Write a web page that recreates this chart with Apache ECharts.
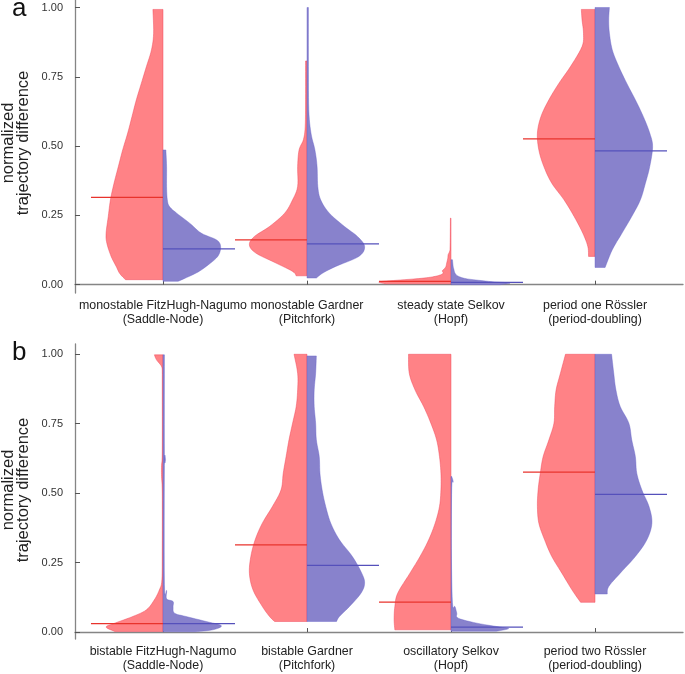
<!DOCTYPE html>
<html><head><meta charset="utf-8">
<script src="https://cdn.jsdelivr.net/npm/echarts@6/dist/echarts.min.js"></script>
<style>html,body{margin:0;padding:0;background:#fff}#c{width:685px;height:674px}</style>
</head><body><div id="c"></div>
<script>
// ---------- data ----------
const categoriesA = ['monostable FitzHugh-Nagumo\n(Saddle-Node)', 'monostable Gardner\n(Pitchfork)', 'steady state Selkov\n(Hopf)', 'period one Rössler\n(period-doubling)'];
const categoriesB = ['bistable FitzHugh-Nagumo\n(Saddle-Node)', 'bistable Gardner\n(Pitchfork)', 'oscillatory Selkov\n(Hopf)', 'period two Rössler\n(period-doubling)'];
const yTicks = [0, 0.25, 0.5, 0.75, 1];
const panelLabels = ['a', 'b'];
const yTitle = 'normalized\ntrajectory difference';

const medianRedA  = [0.315, 0.162, 0.012, 0.526];
const medianBlueA = [0.129, 0.147, 0.008, 0.483];
const medianRedB  = [0.030, 0.314, 0.108, 0.576];
const medianBlueB = [0.030, 0.240, 0.018, 0.496];

// density profiles: [value, relative half-width]
const violinRedA = [
  [[0.018,0.52],[0.04,0.60],[0.066,0.65],[0.102,0.72],[0.15,0.78],[0.186,0.79],[0.246,0.76],[0.306,0.73],[0.366,0.68],[0.426,0.62],[0.486,0.56],[0.547,0.49],[0.607,0.43],[0.667,0.37],[0.727,0.30],[0.787,0.23],[0.847,0.16],[0.907,0.13],[0.993,0.14]],
  [[0.032,0.15],[0.048,0.20],[0.078,0.43],[0.114,0.71],[0.144,0.80],[0.174,0.73],[0.210,0.52],[0.258,0.31],[0.306,0.20],[0.354,0.13],[0.426,0.13],[0.486,0.11],[0.523,0.05],[0.570,0.025],[0.667,0.02],[0.807,0.02]],
  [[0.003,0.9],[0.010,1.0],[0.016,0.75],[0.022,0.45],[0.028,0.26],[0.035,0.15],[0.042,0.11],[0.050,0.12],[0.058,0.09],[0.066,0.07],[0.078,0.06],[0.095,0.045],[0.108,0.04],[0.12,0.02],[0.14,0.012],[0.24,0.008]],
  [[0.102,0.09],[0.138,0.10],[0.186,0.17],[0.246,0.29],[0.306,0.43],[0.366,0.60],[0.426,0.71],[0.486,0.78],[0.547,0.80],[0.607,0.75],[0.667,0.64],[0.727,0.50],[0.787,0.34],[0.859,0.18],[0.907,0.16],[0.955,0.18],[0.993,0.19]]
];
const violinBlueA = [
  [[0.012,0.21],[0.042,0.46],[0.066,0.60],[0.102,0.76],[0.138,0.80],[0.162,0.74],[0.186,0.53],[0.222,0.37],[0.258,0.19],[0.282,0.09],[0.306,0.06],[0.354,0.05],[0.426,0.05],[0.486,0.04]],
  [[0.024,0.13],[0.042,0.22],[0.066,0.40],[0.102,0.72],[0.138,0.80],[0.174,0.70],[0.210,0.52],[0.258,0.31],[0.306,0.19],[0.354,0.15],[0.426,0.14],[0.486,0.11],[0.547,0.055],[0.631,0.025],[0.787,0.02],[1.0,0.02]],
  [[0.000,0.68],[0.006,0.82],[0.010,0.6],[0.014,0.45],[0.02,0.25],[0.024,0.17],[0.032,0.09],[0.042,0.055],[0.055,0.04],[0.066,0.03],[0.09,0.02]],
  [[0.062,0.14],[0.126,0.24],[0.186,0.375],[0.246,0.51],[0.306,0.63],[0.366,0.70],[0.426,0.76],[0.498,0.80],[0.547,0.76],[0.607,0.67],[0.667,0.56],[0.727,0.44],[0.787,0.33],[0.847,0.24],[0.907,0.20],[0.955,0.19],[1.0,0.20]]
];
const violinRedB = [
  [[0.002,0.67],[0.018,0.79],[0.032,0.67],[0.056,0.42],[0.080,0.23],[0.116,0.12],[0.152,0.05],[0.188,0.015],[0.30,0.01],[0.50,0.01],[0.56,0.02],[0.60,0.02],[0.65,0.01],[0.90,0.01],[0.932,0.01],[0.956,0.02],[0.98,0.09],[0.998,0.12]],
  [[0.038,0.45],[0.056,0.52],[0.092,0.62],[0.152,0.75],[0.212,0.80],[0.272,0.78],[0.332,0.72],[0.392,0.62],[0.452,0.48],[0.512,0.36],[0.572,0.33],[0.632,0.29],[0.692,0.25],[0.752,0.20],[0.812,0.15],[0.872,0.13],[0.932,0.13],[1.0,0.18]],
  [[0.008,0.78],[0.045,0.79],[0.092,0.78],[0.14,0.74],[0.212,0.57],[0.272,0.43],[0.332,0.31],[0.392,0.22],[0.452,0.16],[0.512,0.14],[0.572,0.14],[0.632,0.16],[0.692,0.20],[0.752,0.28],[0.812,0.38],[0.872,0.50],[0.932,0.58],[1.0,0.59]],
  [[0.107,0.20],[0.152,0.32],[0.212,0.46],[0.272,0.60],[0.332,0.70],[0.392,0.78],[0.452,0.80],[0.512,0.79],[0.572,0.76],[0.632,0.72],[0.692,0.64],[0.752,0.57],[0.812,0.56],[0.872,0.54],[0.932,0.48],[1.0,0.41]]
];
const violinBlueB = [
  [[0.001,0.45],[0.008,0.69],[0.023,0.81],[0.038,0.60],[0.056,0.32],[0.068,0.16],[0.09,0.14],[0.11,0.14],[0.12,0.05],[0.15,0.05],[0.17,0.02],[0.60,0.02],[0.62,0.035],[0.64,0.02],[0.998,0.02]],
  [[0.038,0.41],[0.056,0.45],[0.092,0.59],[0.14,0.75],[0.176,0.80],[0.212,0.76],[0.272,0.63],[0.332,0.45],[0.392,0.33],[0.452,0.26],[0.512,0.21],[0.572,0.18],[0.632,0.17],[0.692,0.13],[0.752,0.12],[0.812,0.10],[0.872,0.10],[0.932,0.12],[0.994,0.13]],
  [[0.003,0.63],[0.012,0.80],[0.018,0.68],[0.032,0.36],[0.05,0.10],[0.068,0.08],[0.092,0.055],[0.105,0.02],[0.3,0.005],[0.52,0.01],[0.54,0.03],[0.56,0.01]],
  [[0.137,0.17],[0.164,0.19],[0.212,0.35],[0.272,0.56],[0.332,0.72],[0.392,0.79],[0.452,0.75],[0.512,0.65],[0.572,0.58],[0.632,0.56],[0.692,0.51],[0.752,0.47],[0.812,0.35],[0.872,0.29],[0.932,0.26],[1.0,0.23]]
];

// ---------- rendering ----------
const HALF = 0.5;
const FONT = '"Liberation Sans", Arial, sans-serif';
const RED_FILL = '#ff8286', BLUE_FILL = '#8882cc';
const RED_LINE = '#e8332c', BLUE_LINE = '#5550bb';

function smoothPts(pts, segs) {
  if (pts.length < 3) return pts.slice();
  const out = [];
  for (let i = 0; i < pts.length - 1; i++) {
    const p0 = pts[i - 1] || pts[i], p1 = pts[i], p2 = pts[i + 1], p3 = pts[i + 2] || pts[i + 1];
    for (let s = 0; s < segs; s++) {
      const t = s / segs, t2 = t * t, t3 = t2 * t;
      const f = k => 0.5 * ((2 * p1[k]) + (-p0[k] + p2[k]) * t + (2 * p0[k] - 5 * p1[k] + 4 * p2[k] - p3[k]) * t2 + (-p0[k] + 3 * p1[k] - 3 * p2[k] + p3[k]) * t3);
      out.push([f(0), f(1)]);
    }
  }
  out.push(pts[pts.length - 1]);
  return out;
}

function violinSeries(profiles, medians, side, axisIdx) {
  return {
    type: 'custom', xAxisIndex: axisIdx, yAxisIndex: axisIdx, silent: true,
    data: medians.map((m, i) => [i + 1, m]),
    encode: { x: 0, y: 1 },
    renderItem: function (params, api) {
      const cat = api.value(0);
      const prof = profiles[params.dataIndex];
      const cx = api.coord([cat, 0])[0];
      const edge = prof.map(p => api.coord([cat + side * p[1] * HALF, p[0]]));
      let sm = smoothPts(edge, 6).map(p => [side < 0 ? Math.min(p[0], cx) : Math.max(p[0], cx), p[1]]);
      const pts = [[cx, edge[0][1]]].concat(sm, [[cx, edge[edge.length - 1][1]]]);
      return {
        type: 'polygon', shape: { points: pts },
        style: side < 0
          ? { fill: RED_FILL, stroke: 'rgba(240,60,80,0.55)', lineWidth: 0.8 }
          : { fill: BLUE_FILL, stroke: 'rgba(100,95,200,0.5)', lineWidth: 0.8 }
      };
    }
  };
}

function medianSeries(medians, side, axisIdx) {
  return {
    type: 'custom', xAxisIndex: axisIdx, yAxisIndex: axisIdx, silent: true, z: 5,
    data: medians.map((m, i) => [i + 1, m]),
    encode: { x: 0, y: 1 },
    renderItem: function (params, api) {
      const cat = api.value(0), m = api.value(1);
      const a = api.coord([cat, m]), b = api.coord([cat + side * HALF, m]);
      return { type: 'line', shape: { x1: a[0], y1: a[1], x2: b[0], y2: b[1] },
        style: { stroke: side < 0 ? RED_LINE : BLUE_LINE, lineWidth: 1.2 } };
    }
  };
}

function xAxisFor(cats, idx) {
  return {
    type: 'value', gridIndex: idx, min: 0.389, max: 4.611,
    splitLine: { show: false },
    axisLine: { show: true, lineStyle: { color: '#858585', width: 1.3 } },
    axisTick: { show: true, inside: true, length: 4, customValues: [1, 2, 3, 4], lineStyle: { color: '#555' } },
    axisLabel: { customValues: [1, 2, 3, 4], formatter: v => cats[Math.round(v) - 1], color: '#222',
      fontFamily: FONT, fontSize: 12.4, lineHeight: 13.5, margin: 6 }
  };
}
function yAxisFor(idx, min, max) {
  return {
    type: 'value', gridIndex: idx, min: min, max: max,
    splitLine: { show: false },
    axisLine: { show: true, lineStyle: { color: '#858585', width: 1.3 } },
    axisTick: { show: true, inside: true, length: 5, customValues: yTicks, lineStyle: { color: '#555' } },
    axisLabel: { customValues: yTicks, formatter: v => v.toFixed(2), color: '#333', fontFamily: FONT, fontSize: 11, margin: 12 }
  };
}

const chart = echarts.init(document.getElementById('c'), null, { renderer: 'canvas' });
chart.setOption({
  animation: false,
  backgroundColor: '#fff',
  grid: [
    { left: 75, right: 2, top: 0, height: 293 },
    { left: 75, right: 2, top: 344, height: 295 }
  ],
  xAxis: [xAxisFor(categoriesA, 0), xAxisFor(categoriesB, 1)],
  yAxis: [yAxisFor(0, -0.03, 1.027), yAxisFor(1, -0.025, 1.037)],
  graphic: [
    { type: 'text', left: 12, top: -4, style: { text: panelLabels[0], font: '26px ' + FONT, fill: '#111' } },
    { type: 'text', left: 12, top: 340, style: { text: panelLabels[1], font: '26px ' + FONT, fill: '#111' } },
    { type: 'text', x: 16, y: 143, rotation: Math.PI / 2,
      style: { text: yTitle, font: '16.5px ' + FONT, fill: '#222', align: 'center', verticalAlign: 'middle', lineHeight: 15 } },
    { type: 'text', x: 16, y: 490, rotation: Math.PI / 2,
      style: { text: yTitle, font: '16.5px ' + FONT, fill: '#222', align: 'center', verticalAlign: 'middle', lineHeight: 15 } }
  ],
  series: [
    violinSeries(violinRedA, medianRedA, -1, 0),
    violinSeries(violinBlueA, medianBlueA, 1, 0),
    violinSeries(violinRedB, medianRedB, -1, 1),
    violinSeries(violinBlueB, medianBlueB, 1, 1),
    medianSeries(medianRedA, -1, 0),
    medianSeries(medianBlueA, 1, 0),
    medianSeries(medianRedB, -1, 1),
    medianSeries(medianBlueB, 1, 1)
  ]
});
</script></body></html>
